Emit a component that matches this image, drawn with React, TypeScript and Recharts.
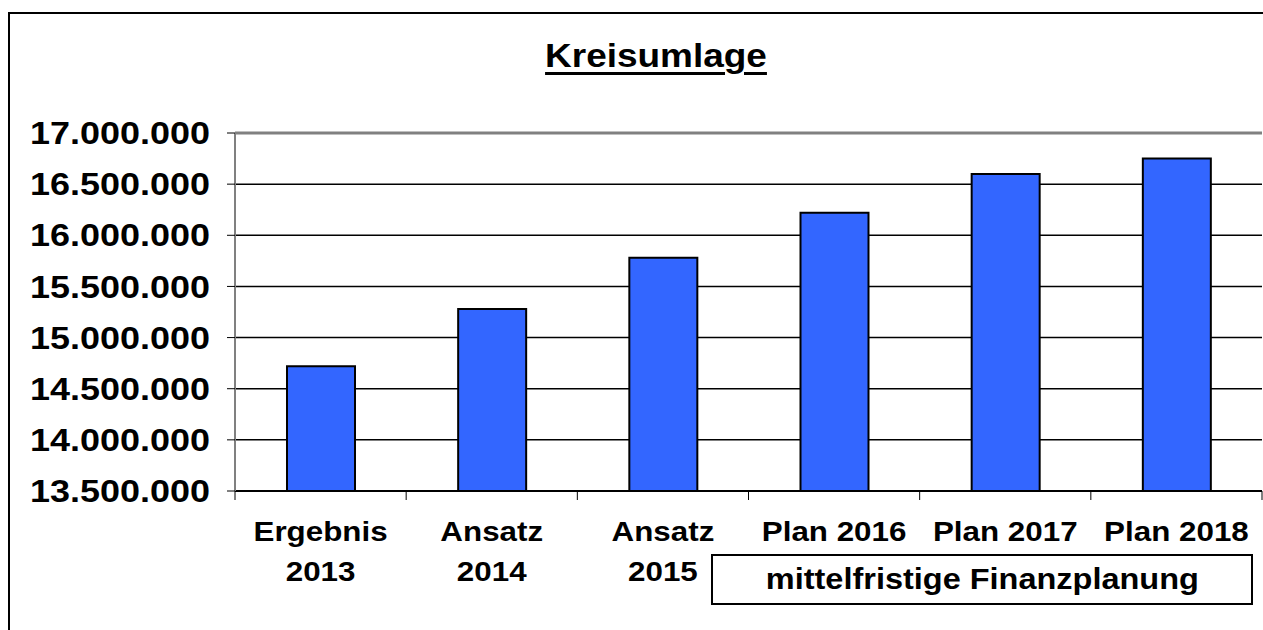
import { Bar, BarChart, CartesianGrid, ReferenceLine, XAxis, YAxis } from "recharts";

// Werte (Euro)
const categories = ["Ergebnis\n2013", "Ansatz\n2014", "Ansatz\n2015", "Plan 2016", "Plan 2017", "Plan 2018"];
const kreisumlage = [14720000, 15280000, 15780000, 16220000, 16600000, 16750000];
const yTicks = [13500000, 14000000, 14500000, 15000000, 15500000, 16000000, 16500000, 17000000];

const data = categories.map((label, i) => ({ label, value: kreisumlage[i] }));

const W = 1263;
const H = 630;
const LEFT = 235;
const RIGHT = 1;
const TOP = 133;
const BOTTOM = 139;
const BAND = (W - LEFT - RIGHT) / categories.length;
const FONT = '"Liberation Sans", Arial, sans-serif';
const STRETCH = 1.12; // Original ist leicht in die Breite gezogen

const fmt = (v: number) => String(v).replace(/\B(?=(\d{3})+(?!\d))/g, ".");

function YTick({ x, y, payload }: { x?: number; y?: number; payload?: { value: number } }) {
  return (
    <g transform={`translate(${x},${y}) scale(1.16,1)`}>
      <text x={0} y={0} dy="0.36em" textAnchor="end" fontFamily={FONT} fontWeight="bold" fontSize={31} fill="#000">
        {fmt(payload?.value ?? 0)}
      </text>
    </g>
  );
}

function XTick({ x = 0, y = 0, payload, index = 0 }: { x?: number; y?: number; payload?: { value: string }; index?: number }) {
  const lines = String(payload?.value ?? "").split("\n");
  return (
    <g>
      <line x1={x - BAND / 2} x2={x - BAND / 2} y1={y} y2={y + 9} stroke="#000" strokeWidth={1} />
      {index === categories.length - 1 && (
        <line x1={x + BAND / 2} x2={x + BAND / 2} y1={y} y2={y + 9} stroke="#000" strokeWidth={1} />
      )}
      <g transform={`translate(${x},${y}) scale(${STRETCH},1)`}>
        {lines.map((l, i) => (
          <text key={l} x={0} y={50 + i * 40} textAnchor="middle" fontFamily={FONT} fontWeight="bold" fontSize={28} fill="#000">
            {l}
          </text>
        ))}
      </g>
    </g>
  );
}

export default function App() {
  return (
    <div style={{ position: "absolute", left: 0, top: 0, width: W, height: H, overflow: "hidden", background: "#fff" }}>
      <div
        style={{
          position: "absolute",
          left: 8,
          top: 12,
          width: 1400,
          height: 800,
          borderLeft: "2px solid #000",
          borderTop: "2px solid #000",
        }}
      />
      <div
        style={{
          position: "absolute",
          left: 456,
          width: 400,
          top: 36,
          textAlign: "center",
          fontFamily: FONT,
          fontWeight: "bold",
          fontSize: 33,
          lineHeight: "40px",
          textDecoration: "underline",
          textDecorationThickness: 3,
          textUnderlineOffset: 5,
          transform: `scale(${STRETCH},1)`,
        }}
      >
        Kreisumlage
      </div>
      <div style={{ position: "absolute", left: 0, top: 0 }}>
        <BarChart width={W} height={H} data={data} margin={{ top: TOP, right: RIGHT, bottom: 0, left: 0 }} barSize={68}>
          <CartesianGrid horizontal vertical={false} stroke="#000" strokeWidth={1.5} />
          <XAxis
            dataKey="label"
            height={BOTTOM}
            interval={0}
            axisLine={{ stroke: "#000", strokeWidth: 2 }}
            tickLine={false}
            tickSize={0}
            tickMargin={0}
            tick={<XTick />}
          />
          <YAxis
            width={LEFT}
            domain={[13500000, 17000000]}
            ticks={yTicks}
            interval={0}
            allowDataOverflow
            axisLine={{ stroke: "#808080", strokeWidth: 2 }}
            tickLine={{ stroke: "#000", strokeWidth: 1 }}
            tickSize={8}
            tickMargin={17}
            tick={<YTick />}
          />
          <ReferenceLine y={17000000} stroke="#808080" strokeWidth={3} />
          <Bar dataKey="value" fill="#3366FF" stroke="#000" strokeWidth={2} isAnimationActive={false} />
        </BarChart>
      </div>
      <div
        style={{
          position: "absolute",
          left: 711,
          top: 554,
          width: 538,
          height: 47,
          border: "2px solid #000",
          display: "flex",
          alignItems: "center",
          justifyContent: "center",
        }}
      >
        <span
          style={{
            fontFamily: FONT,
            fontWeight: "bold",
            fontSize: 29,
            transform: `scale(${STRETCH},1)`,
            display: "inline-block",
          }}
        >
          mittelfristige Finanzplanung
        </span>
      </div>
    </div>
  );
}
